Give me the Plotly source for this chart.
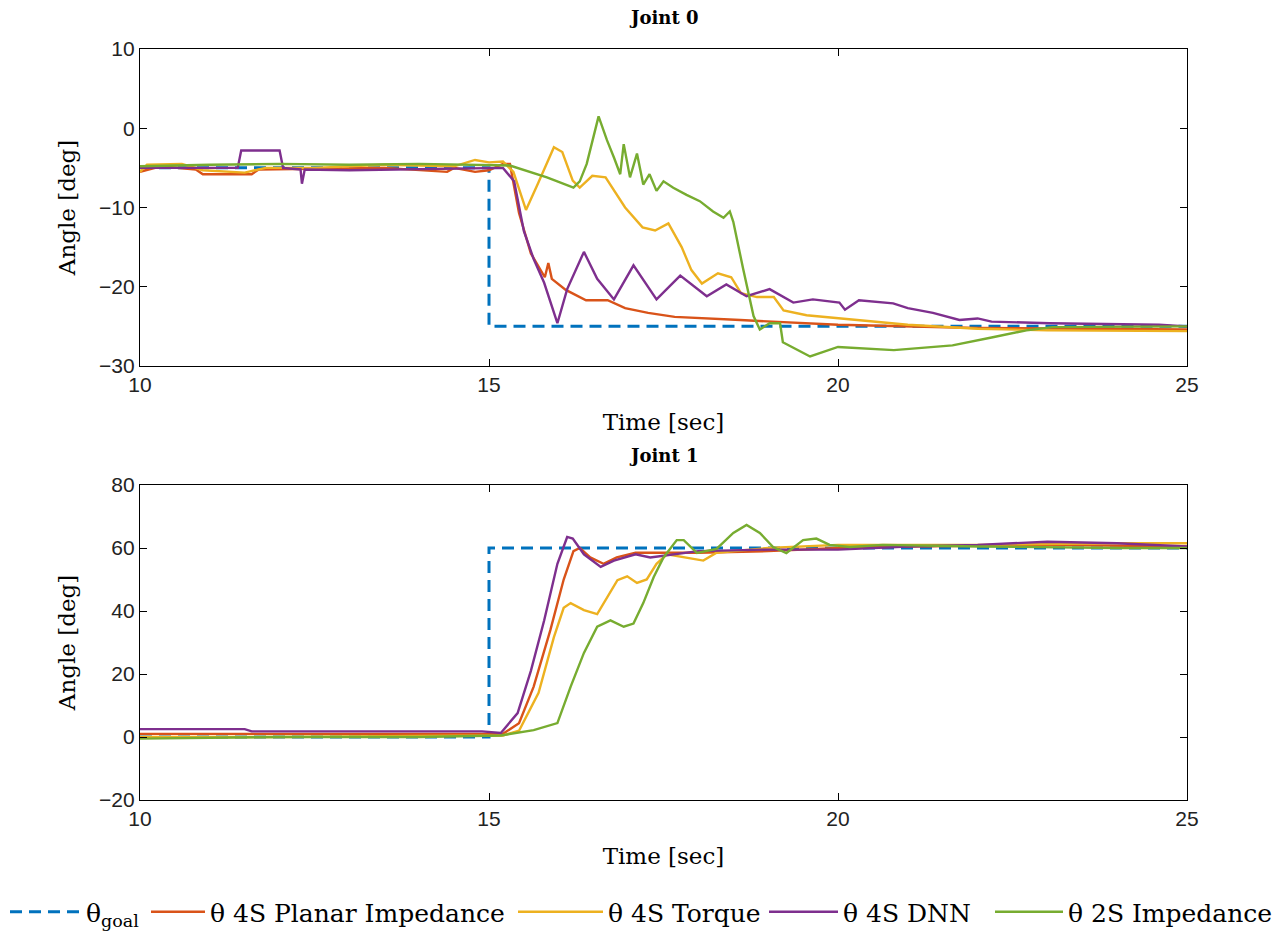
import plotly.graph_objects as go

# ---------------- data ----------------
# Joint 0
goal0_t = [10, 15, 15, 25]
goal0_v = [-5, -5, -25, -25]

red0_t = [10, 10.3, 10.8, 10.9, 11.6, 11.7, 13.5, 14.1, 14.4, 14.5, 14.8, 15.0, 15.2, 15.3, 15.43, 15.6, 15.8, 15.85, 15.9, 16.1, 16.39, 16.7, 16.95, 17.28, 17.66, 18.6, 20, 22, 25]
red0_v = [-5.5, -4.8, -5.2, -5.8, -5.8, -5.2, -5.0, -5.3, -5.5, -5.0, -5.5, -5.3, -4.5, -4.5, -10.7, -15.8, -18.8, -17, -19, -20.4, -21.7, -21.7, -22.7, -23.3, -23.8, -24.2, -24.8, -25.2, -25.4]

orange0_t = [10, 10.1, 10.6, 10.9, 11.5, 11.8, 12.5, 13.5, 14.5, 14.8, 15.0, 15.2, 15.35, 15.53, 15.7, 15.93, 16.05, 16.2, 16.3, 16.48, 16.67, 16.95, 17.2, 17.38, 17.57, 17.76, 17.9, 18.05, 18.28, 18.47, 18.61, 18.84, 19.08, 19.22, 19.55, 20.03, 21, 22, 23, 25]
orange0_v = [-5.5, -4.6, -4.5, -5.3, -5.6, -5.0, -5.0, -4.6, -4.8, -4.0, -4.3, -4.2, -5.5, -10.3, -7, -2.4, -3, -6.6, -7.5, -6.0, -6.2, -10, -12.5, -12.9, -12, -15, -17.9, -19.6, -18.3, -18.8, -20.8, -21.3, -21.3, -23, -23.6, -24, -24.8, -25.3, -25.5, -25.6]

purple0_t = [10, 11.4, 11.45, 12.0, 12.05, 12.3, 12.32, 12.36, 13, 14, 15.2, 15.36, 15.5, 15.64, 15.79, 15.98, 16.12, 16.36, 16.55, 16.79, 17.07, 17.4, 17.74, 18.12, 18.4, 18.69, 19.02, 19.36, 19.64, 20.02, 20.1, 20.3, 20.79, 21.0, 21.36, 21.74, 22.0, 22.2, 23.03, 24.6, 25]
purple0_v = [-5, -5, -2.8, -2.8, -5, -5.2, -7, -5.2, -5.3, -5.2, -5, -6.7, -13, -16.5, -19.5, -24.6, -20.3, -15.6, -19, -21.6, -17.3, -21.6, -18.6, -21.2, -19.7, -21.2, -20.3, -22, -21.6, -22, -22.9, -21.7, -22.1, -22.7, -23.3, -24.2, -24, -24.4, -24.6, -24.8, -25]

green0_t = [10, 11, 12, 13, 14, 15.3, 15.83, 16.21, 16.3, 16.4, 16.57, 16.69, 16.79, 16.88, 16.93, 17.02, 17.12, 17.21, 17.3, 17.4, 17.5, 17.64, 17.83, 18.02, 18.21, 18.36, 18.45, 18.5, 18.64, 18.79, 18.88, 19.02, 19.17, 19.21, 19.6, 19.88, 20.0, 20.8, 21.64, 22.2, 22.7, 23.07, 25]
green0_v = [-4.8, -4.6, -4.5, -4.6, -4.5, -4.7, -6.2, -7.5, -6.7, -4.5, 1.5, -1.5, -3.7, -5.8, -2, -6.2, -3.2, -7.1, -5.8, -7.9, -6.7, -7.5, -8.4, -9.2, -10.5, -11.3, -10.5, -11.8, -17.7, -23.7, -25.4, -24.6, -24.6, -27, -28.8, -28, -27.6, -28, -27.4, -26.4, -25.5, -25.1, -25]

# Joint 1
goal1_t = [10, 15, 15, 25]
goal1_v = [0, 0, 60, 60]

red1_t = [10, 12, 14, 15.2, 15.43, 15.64, 15.88, 16.07, 16.21, 16.3, 16.45, 16.64, 16.83, 17.1, 18, 19, 20, 21, 23, 25]
red1_v = [1, 1, 1, 1, 4.4, 16, 34, 50, 59, 60, 57, 55, 57, 58.5, 58.5, 59, 60, 60.5, 61, 60.5]

orange1_t = [10, 12, 14, 15.2, 15.43, 15.71, 15.93, 16.07, 16.17, 16.36, 16.55, 16.7, 16.84, 16.98, 17.12, 17.26, 17.4, 17.55, 17.79, 18.07, 18.26, 19, 20, 22, 24, 25]
orange1_v = [0, 0, 0.3, 0.5, 2, 14, 31.7, 41, 42.5, 40.3, 39, 44.4, 49.8, 51, 48.9, 50, 55, 58, 57, 56, 58.5, 60, 61, 61, 61.5, 61.5]

purple1_t = [10, 11.5, 11.6, 14.9, 15.17, 15.41, 15.6, 15.79, 15.98, 16.12, 16.2, 16.36, 16.6, 16.79, 17.1, 17.31, 18, 19, 20, 21, 22, 23, 24, 25]
purple1_v = [2.5, 2.5, 1.8, 1.8, 1.3, 7.6, 21, 37, 55, 63.5, 63, 58, 54, 56, 58, 57, 59, 59.5, 59.5, 60.5, 61, 62, 61.5, 60.5]

green1_t = [10, 12, 14, 15, 15.17, 15.64, 15.98, 16.17, 16.36, 16.55, 16.74, 16.93, 17.07, 17.21, 17.36, 17.5, 17.69, 17.79, 17.98, 18.26, 18.5, 18.69, 18.88, 19.07, 19.26, 19.5, 19.69, 19.88, 20.17, 20.64, 22, 24, 25]
green1_v = [-0.5, 0, 0, 0.3, 0.5, 2.2, 4.4, 16, 26.7, 35, 37, 35, 36, 42.5, 50.8, 57, 62.5, 62.5, 58.4, 59.7, 64.8, 67.3, 64.8, 60.3, 58.4, 62.5, 63, 61, 60.3, 61, 60.5, 60, 60]

names = ["θ<sub>goal</sub>", "θ 4S Planar Impedance", "θ 4S Torque", "θ 4S DNN", "θ 2S Impedance"]
colors = ["#0072BD", "#D95319", "#EDB120", "#7E2F8E", "#77AC30"]

x_ticks = [10, 15, 20, 25]
y0_ticks = [-30, -20, -10, 0, 10]
y1_ticks = [-20, 0, 20, 40, 60, 80]

SERIF = "DejaVu Serif"
SANS = "Liberation Sans"

# legend layout (pixel position of each entry's left edge and sample width)
legend_left_px = [5, 146, 513, 764, 990]
legend_itemwidth = [71, 54, 85, 69, 68]
legend_ids = ["legend", "legend2", "legend3", "legend4", "legend5"]


def legend_label(s):
    return '<span style="font-family:\'DejaVu Serif\'">' + s + "</span>"


fig = go.Figure()

series0 = [(goal0_t, goal0_v), (red0_t, red0_v), (orange0_t, orange0_v), (purple0_t, purple0_v), (green0_t, green0_v)]
series1 = [(goal1_t, goal1_v), (red1_t, red1_v), (orange1_t, orange1_v), (purple1_t, purple1_v), (green1_t, green1_v)]

for i, (t, v) in enumerate(series0):
    fig.add_trace(go.Scatter(
        x=t, y=v, mode="lines", name=legend_label(names[i]), legendgroup=str(i), showlegend=True,
        legend=legend_ids[i],
        line=dict(color=colors[i], width=3 if i == 0 else 2.4, dash="12px,7px" if i == 0 else "solid"),
        xaxis="x", yaxis="y"))
for i, (t, v) in enumerate(series1):
    fig.add_trace(go.Scatter(
        x=t, y=v, mode="lines", name=legend_label(names[i]), legendgroup=str(i), showlegend=False,
        legend=legend_ids[i],
        line=dict(color=colors[i], width=3 if i == 0 else 2.4, dash="12px,7px" if i == 0 else "solid"),
        xaxis="x2", yaxis="y2"))

axis_common = dict(showline=True, mirror="allticks", linecolor="black", linewidth=1.3,
                   ticks="inside", ticklen=7, tickcolor="black", showgrid=False, zeroline=False,
                   tickfont=dict(family=SANS, size=21, color="#222222"))

W, H = 1272, 934
ML, MR, MT, MB = 140, 85, 0, 40
PW, PH = W - ML - MR, H - MT - MB


def py(px):  # pixel row -> paper fraction
    return (PH - (px - MT)) / PH


def pxx(px):  # pixel column -> paper fraction
    return (px - ML) / PW


xtitle = dict(text="Time [sec]", font=dict(family=SERIF, size=23, color="black"), standoff=18)
ytitle = dict(text="Angle [deg]", font=dict(family=SERIF, size=23, color="black"), standoff=16)

fig.update_layout(
    width=W, height=H,
    margin=dict(l=ML, r=MR, t=MT, b=MB, autoexpand=False),
    paper_bgcolor="white", plot_bgcolor="white",
    font=dict(family=SERIF, color="black"),
    xaxis=dict(domain=[0, 1], range=[10, 25], tickvals=x_ticks, anchor="y", title=xtitle, **axis_common),
    yaxis=dict(domain=[py(366), py(49)], range=[-30, 10], tickvals=y0_ticks, anchor="x",
               title=ytitle, **axis_common),
    xaxis2=dict(domain=[0, 1], range=[10, 25], tickvals=x_ticks, anchor="y2", title=xtitle, **axis_common),
    yaxis2=dict(domain=[py(800), py(485)], range=[-20, 80], tickvals=y1_ticks, anchor="x2",
                title=ytitle, **axis_common),
    annotations=[
        dict(text="<b>Joint 0</b>", x=0.5, xref="paper", y=py(18), yref="paper",
             showarrow=False, font=dict(family=SERIF, size=18), xanchor="center", yanchor="middle"),
        dict(text="<b>Joint 1</b>", x=0.5, xref="paper", y=py(455), yref="paper",
             showarrow=False, font=dict(family=SERIF, size=18), xanchor="center", yanchor="middle"),
    ],
)

for lid, lx, iw in zip(legend_ids, legend_left_px, legend_itemwidth):
    fig.update_layout({lid: dict(orientation="h", xref="paper", yref="paper",
                                 x=pxx(lx), xanchor="left", y=py(912), yanchor="middle",
                                 font=dict(family=SERIF, size=25, color="black"),
                                 bgcolor="rgba(0,0,0,0)", itemwidth=iw, tracegroupgap=0)})

fig.write_html("out.html")
